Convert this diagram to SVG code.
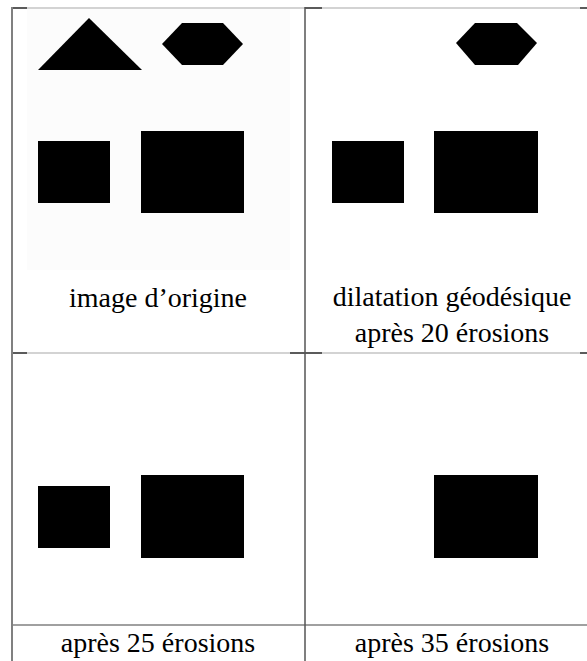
<svg xmlns="http://www.w3.org/2000/svg" width="587" height="661" viewBox="0 0 587 661">
<style>
.shape{fill:#000}
.lbl{font-family:'Liberation Serif','Times New Roman',Times,serif;font-size:28px;fill:#000;text-anchor:middle}
.rule{stroke:#c4c4c4;stroke-width:1.5;fill:none}
.tick{stroke:#333;stroke-width:1.5;fill:none}
.vrule{stroke:#808080;stroke-width:2;fill:none}
.vrule2{stroke:#555;stroke-width:1.5;fill:none}
</style>
<rect width="587" height="661" fill="#fff"/>
<g id="grid">
<rect x="27" y="9" width="263" height="261" fill="#fcfcfc"/>
<line class="rule" x1="12" y1="8" x2="587" y2="8"/>
<line class="tick" x1="12" y1="8" x2="27" y2="8"/>
<line class="tick" x1="305" y1="8" x2="322" y2="8"/>
<line class="tick" x1="580" y1="8" x2="587" y2="8"/>
<line class="rule" x1="12" y1="353" x2="587" y2="353"/>
<line class="tick" x1="12" y1="353" x2="27" y2="353"/>
<line class="tick" x1="290" y1="353" x2="322" y2="353"/>
<line class="tick" x1="580" y1="353" x2="587" y2="353"/>
<line class="vrule" x1="12" y1="7" x2="12" y2="661"/>
<line x1="12" y1="625" x2="587" y2="625" stroke="#808080" stroke-width="1.5"/>
<line class="vrule2" x1="305" y1="7" x2="305" y2="661"/>
</g>
<g id="cell-original">
<polygon class="shape" points="89,18 142,70 38,70"/>
<polygon class="shape" points="162,44 182,23 223,23 243,44 223,65 182,65"/>
<rect class="shape" x="38" y="141" width="72" height="62"/>
<rect class="shape" x="141" y="131" width="103" height="82"/>
<text class="lbl" font-family="Liberation Serif" x="158" y="307">image d’origine</text>
</g>
<g id="cell-dilatation">
<polygon class="shape" points="456,43 475,23 517,23 537,43 518,65 475,65"/>
<rect class="shape" x="332" y="141" width="72" height="62"/>
<rect class="shape" x="434" y="131" width="104" height="82"/>
<text class="lbl" font-family="Liberation Serif" x="452" y="306">dilatation géodésique</text>
<text class="lbl" font-family="Liberation Serif" x="452" y="342">après 20 érosions</text>
</g>
<g id="cell-25">
<rect class="shape" x="38" y="486" width="72" height="62"/>
<rect class="shape" x="141" y="475" width="103" height="83"/>
<text class="lbl" font-family="Liberation Serif" x="158" y="652">après 25 érosions</text>
</g>
<g id="cell-35">
<rect class="shape" x="434" y="475" width="104" height="83"/>
<text class="lbl" font-family="Liberation Serif" x="452" y="652">après 35 érosions</text>
</g>
</svg>
